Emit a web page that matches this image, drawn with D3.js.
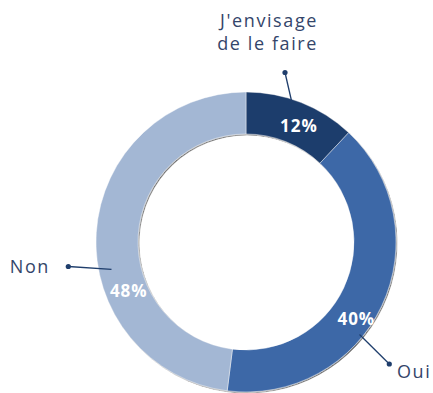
<!DOCTYPE html>
<html>
<head>
<meta charset="utf-8">
<script src="https://cdn.jsdelivr.net/npm/d3@7/dist/d3.min.js"></script>
<style>
  html, body { margin: 0; padding: 0; background: #ffffff; }
  svg { display: block; }
</style>
</head>
<body>
<svg id="chart" width="433" height="393"></svg>
<script>
// Survey answers, in drawing order (clockwise from 12 o'clock)
const categories = ["J'envisage de le faire", "Oui", "Non"];
const values = [12, 40, 48];
const valueLabels = ["12%", "40%", "48%"];
const colors = ["#1f3e6c", "#3d68a7", "#a3b7d4"];

const width = 433, height = 393;
const cx = 246, cy = 242;
const outerR = 150, innerR = 108;

// Placement of the percentage labels (angle in degrees from 12 o'clock, radius)
const pctPlacement = [
  { angle: 24.4, r: 128 },
  { angle: 124.6, r: 134 },
  { angle: 247.4, r: 127 }
];

// Callouts: leader line from the ring to a dot, text next to the dot (offsets from centre)
const callouts = [
  { lines: ["J'envisage", "de le faire"], from: [46, -139], dot: [39, -169.5], text: [72, -215], anchor: "end" },
  { lines: ["Oui"], from: [113.5, 92.5], dot: [143.3, 122], text: [151, 136], anchor: "start" },
  { lines: ["Non"], from: [-134.5, 27.3], dot: [-177.7, 24.5], text: [-196, 31], anchor: "end" }
];

const svg = d3.select("#chart");

const defs = svg.append("defs");
const shadow = defs.append("filter")
  .attr("id", "ringShadow")
  .attr("x", "-10%").attr("y", "-10%")
  .attr("width", "120%").attr("height", "120%");
shadow.append("feDropShadow")
  .attr("dx", 1).attr("dy", 1)
  .attr("stdDeviation", 0.4)
  .attr("flood-color", "#000000")
  .attr("flood-opacity", 0.55);

const pie = d3.pie().sort(null).value(d => d)(values);
const arc = d3.arc().innerRadius(innerR).outerRadius(outerR);

const g = svg.append("g").attr("transform", `translate(${cx},${cy})`);

g.append("g")
  .attr("filter", "url(#ringShadow)")
  .selectAll("path")
  .data(pie)
  .join("path")
  .attr("d", arc)
  .attr("fill", (d, i) => colors[i])
  .attr("stroke", "rgba(255,255,255,0.55)")
  .attr("stroke-width", 0.8);

// Percentage labels inside the ring
g.selectAll("text.pct")
  .data(pie)
  .join("text")
  .attr("class", "pct")
  .attr("x", (d, i) => pctPlacement[i].r * Math.sin(pctPlacement[i].angle * Math.PI / 180))
  .attr("y", (d, i) => -pctPlacement[i].r * Math.cos(pctPlacement[i].angle * Math.PI / 180))
  .attr("text-anchor", "middle")
  .attr("dominant-baseline", "central")
  .attr("font-family", "'Open Sans', sans-serif")
  .attr("font-weight", 700)
  .attr("font-size", 17)
  .attr("letter-spacing", 1)
  .attr("fill", "#ffffff")
  .text((d, i) => valueLabels[i]);

// Callouts for the category names
callouts.forEach(c => {
  g.append("line")
    .attr("x1", c.from[0]).attr("y1", c.from[1])
    .attr("x2", c.dot[0]).attr("y2", c.dot[1])
    .attr("stroke", "#1f3e6c")
    .attr("stroke-width", 1.3);
  g.append("circle")
    .attr("cx", c.dot[0]).attr("cy", c.dot[1])
    .attr("r", 2.6)
    .attr("fill", "#1f3e6c");
  const t = g.append("text")
    .attr("x", c.text[0]).attr("y", c.text[1])
    .attr("text-anchor", c.anchor)
    .attr("font-family", "'Open Sans', sans-serif")
    .attr("font-size", 18)
    .attr("letter-spacing", 1.6)
    .attr("fill", "#34456a");
  c.lines.forEach((line, k) => {
    t.append("tspan")
      .attr("x", c.text[0])
      .attr("dy", k === 0 ? 0 : 23)
      .text(line);
  });
});
</script>
</body>
</html>
